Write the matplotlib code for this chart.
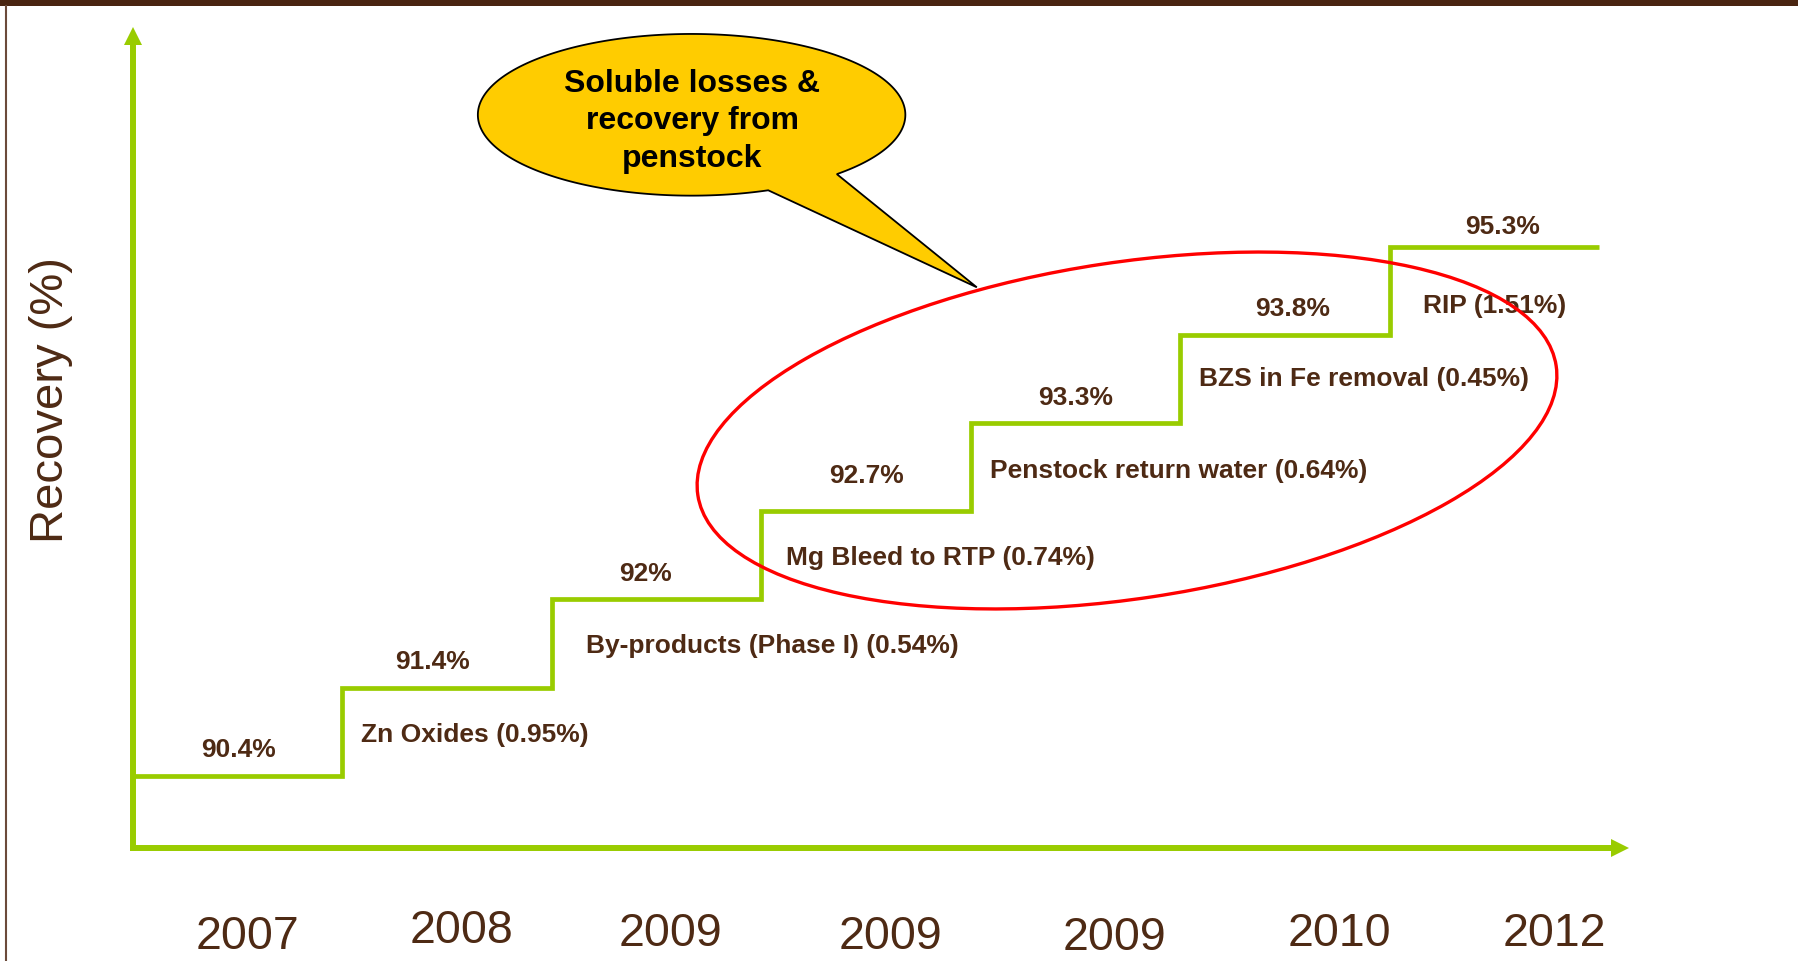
import numpy as np
import matplotlib
matplotlib.use("Agg")
import matplotlib.pyplot as plt
from matplotlib.patches import Ellipse, Polygon, Rectangle
from matplotlib import transforms
from matplotlib.ticker import NullLocator

# ---- data ----
years = ["2007", "2008", "2009", "2009", "2009", "2010", "2012"]
recovery = [90.4, 91.4, 92.0, 92.7, 93.3, 93.8, 95.3]
initiatives = ["Zn Oxides", "By-products (Phase I)", "Mg Bleed to RTP",
               "Penstock return water", "BZS in Fe removal", "RIP"]
gains = [0.95, 0.54, 0.74, 0.64, 0.45, 1.51]
callout_lines = ["Soluble losses &", "recovery from", "penstock"]
y_label = "Recovery (%)"

# ---- style ----
GREEN = "#99CC00"
BROWN = "#4E2A14"
BAR = "#4A2511"
RED = "#FF0000"
YELLOW = "#FFCC00"
plt.rcParams["font.family"] = ["Liberation Sans", "DejaVu Sans"]

W, H = 1798, 962
fig = plt.figure(figsize=(W / 100, H / 100), dpi=100)
fig.patch.set_facecolor("white")

# Recovery axis: each recorded level sits one even step above the last
levels = np.array(recovery, dtype=float)
ranks = np.arange(len(levels), dtype=float)
lo_slope = levels[1] - levels[0]
hi_slope = levels[-1] - levels[-2]


def fwd(v):
    v = np.asarray(v, dtype=float)
    r = np.interp(v, levels, ranks)
    r = np.where(v < levels[0], (v - levels[0]) / lo_slope, r)
    r = np.where(v > levels[-1], ranks[-1] + (v - levels[-1]) / hi_slope, r)
    return r


def inv(r):
    r = np.asarray(r, dtype=float)
    v = np.interp(r, ranks, levels)
    v = np.where(r < 0, levels[0] + r * lo_slope, v)
    v = np.where(r > ranks[-1], levels[-1] + (r - ranks[-1]) * hi_slope, v)
    return v


# axes geometry in pixels
x0_px, step_px = 132.5, 209.5
base_px, rank_px = 776.7, 88.15
right_px, top_px, bottom_px = 1620, 37, 849

ax = fig.add_axes([x0_px / W, (H - bottom_px) / H,
                   (right_px - x0_px) / W, (bottom_px - top_px) / H])
ax.set_yscale("function", functions=(fwd, inv))
ax.set_xlim(0, (right_px - x0_px) / step_px)
ax.set_ylim(inv((base_px - bottom_px) / rank_px), inv((base_px - top_px) / rank_px))
ax.set_xticks([])
ax.set_yticks([])
ax.yaxis.set_minor_locator(NullLocator())
ax.xaxis.set_minor_locator(NullLocator())
ax.tick_params(which="both", length=0)
for s in ("top", "right"):
    ax.spines[s].set_visible(False)
for s in ("left", "bottom"):
    ax.spines[s].set_color(GREEN)
    ax.spines[s].set_linewidth(4.3)
ax.patch.set_alpha(0)
ax.plot(1, 0, marker=">", ms=13, mew=0, color=GREEN, transform=ax.transAxes, clip_on=False)
ax.plot(0, 1, marker="^", ms=13, mew=0, color=GREEN, transform=ax.transAxes, clip_on=False)

# recovery staircase
edges = np.arange(len(recovery) + 1)
ax.step(edges, recovery + [recovery[-1]], where="post", color=GREEN, lw=3.4,
        solid_joinstyle="miter", solid_capstyle="butt", clip_on=False, zorder=3)

# level labels above each tread
val_x = [0.504, 0.434, 0.451, 0.504, 0.504, 0.539, 0.540]
val_dy = [20, 20, 19.3, 29.5, 19.5, 19.5, 13.7]
for i, v in enumerate(recovery):
    ax.annotate(f"{v:g}%", xy=(i + val_x[i], v), xytext=(0, val_dy[i]),
                textcoords="offset pixels", ha="center", va="baseline",
                fontsize=19, fontweight="bold", color=BROWN, annotation_clip=False)

# initiative labels beside each riser
gain_x = [0.091, 0.163, 0.119, 0.093, 0.093, 0.158]
gain_dy = [-53.4, -53, -53, -53.8, -49.6, -65]
for i, (name, g) in enumerate(zip(initiatives, gains)):
    ax.annotate(f"{name} ({g:.2f}%)", xy=(i + 1 + gain_x[i], recovery[i + 1]),
                xytext=(0, gain_dy[i]), textcoords="offset pixels",
                ha="left", va="baseline", fontsize=19, fontweight="bold",
                color=BROWN, annotation_clip=False)

# overlay in pixel coordinates for frame, years and callouts
ov = fig.add_axes([0, 0, 1, 1])
ov.set_xlim(0, W)
ov.set_ylim(H, 0)
ov.axis("off")

ov.add_patch(Rectangle((0, 0), W, 7, facecolor=BAR, edgecolor="none"))
ov.plot([6, 6], [7, H], color="#6B4A3A", lw=1.5)

ov.text(63.3, 400.5, y_label, rotation=90, rotation_mode="anchor",
        ha="center", va="baseline", fontsize=34, color=BROWN)

year_x = [0.547, 0.570, 0.570, 0.616, 0.687, 0.759, 0.785]
year_base = [949, 943, 946, 949, 950, 946, 946]
ytrans = transforms.blended_transform_factory(ax.transData, ov.transData)
for i, yr in enumerate(years):
    ov.text(i + year_x[i], year_base[i], yr, transform=ytrans, ha="center",
            va="baseline", fontsize=33.5, color=BROWN)

# red ring around the soluble-loss initiatives
ov.add_patch(Ellipse((1127, 431.5), 868, 336.4, angle=-8.57, facecolor="none",
                     edgecolor=RED, lw=2.4, zorder=4))

# speech bubble
cx, cy, ea, eb = 691.6, 115.8, 213.75, 80.85
t = np.radians(np.linspace(69.0, 360 + 47.2, 300))
pts = np.column_stack([cx + ea * np.cos(t), cy + eb * np.sin(t)])
pts = np.vstack([pts, [[976.8, 288.3]]])
ov.add_patch(Polygon(pts, closed=True, facecolor=YELLOW, edgecolor="black",
                     lw=1.3, joinstyle="miter", zorder=5))
for line, yb in zip(callout_lines, [91.7, 129.0, 166.7]):
    ov.text(692, yb, line, ha="center", va="baseline", fontsize=23,
            fontweight="bold", color="black", zorder=6)

fig.savefig("out.png", dpi=100, facecolor="white")
